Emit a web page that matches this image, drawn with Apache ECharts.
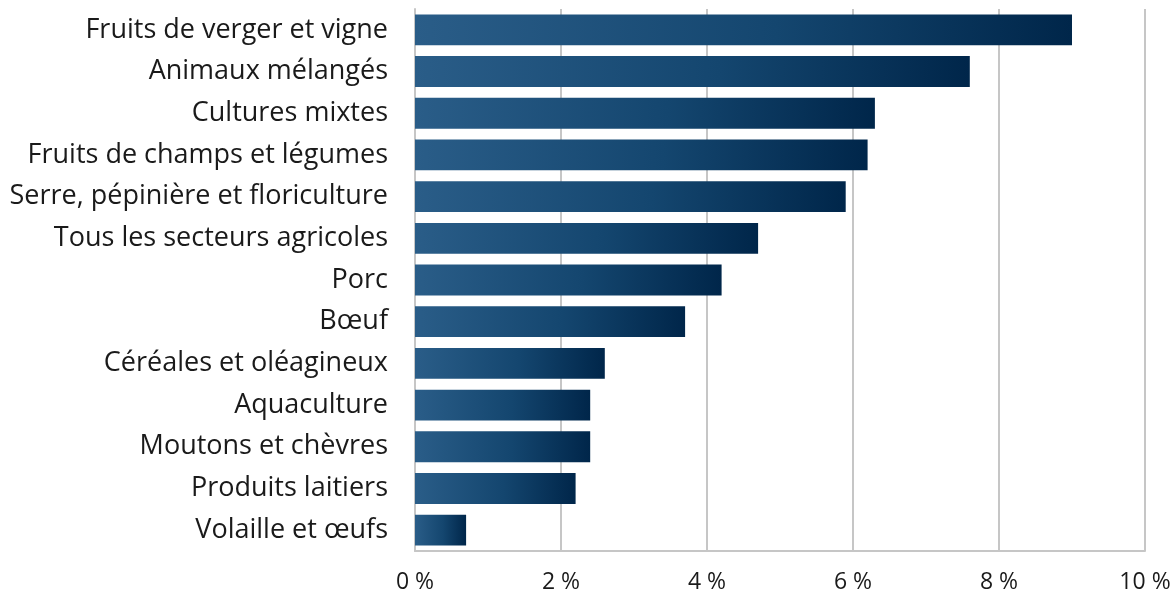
<!DOCTYPE html>
<html>
<head>
<meta charset="utf-8">
<script src="https://cdn.jsdelivr.net/npm/echarts@6/dist/echarts.min.js"></script>
<style>
  html, body { margin: 0; padding: 0; background: #ffffff; }
  #chart { width: 1175px; height: 594px; }
</style>
</head>
<body>
<div id="chart"></div>
<script>
// Secteurs agricoles, du plus élevé au plus bas
const categories = [
  'Fruits de verger et vigne',
  'Animaux mélangés',
  'Cultures mixtes',
  'Fruits de champs et légumes',
  'Serre, pépinière et floriculture',
  'Tous les secteurs agricoles',
  'Porc',
  'Bœuf',
  'Céréales et oléagineux',
  'Aquaculture',
  'Moutons et chèvres',
  'Produits laitiers',
  'Volaille et œufs'
];
const values = [9.0, 7.6, 6.3, 6.2, 5.9, 4.7, 4.2, 3.7, 2.6, 2.4, 2.4, 2.2, 0.7];
const xTicks = [0, 2, 4, 6, 8, 10];

const chart = echarts.init(document.getElementById('chart'));
const fontFamily = '"Open Sans", "Noto Sans", sans-serif';

chart.setOption({
  animation: false,
  grid: { left: 415, right: 30, top: 9, bottom: 42, containLabel: false },
  xAxis: {
    type: 'value',
    min: xTicks[0],
    max: xTicks[xTicks.length - 1],
    interval: 2,
    axisLine: { show: true, lineStyle: { color: '#c6c6c6', width: 2 } },
    axisTick: { show: false },
    splitLine: { show: true, lineStyle: { color: '#c6c6c6', width: 2 } },
    axisLabel: {
      color: '#1a1a1a',
      fontFamily: fontFamily,
      fontSize: 23,
      margin: 20,
      formatter: v => v + '\u00a0%'
    }
  },
  yAxis: {
    type: 'category',
    inverse: true,
    data: categories,
    axisLine: { show: true, lineStyle: { color: '#c6c6c6', width: 2 } },
    axisTick: { show: false },
    axisLabel: {
      color: '#1a1a1a',
      fontFamily: fontFamily,
      fontSize: 27,
      margin: 27
    }
  },
  series: [{
    type: 'bar',
    data: values,
    barCategoryGap: '26%',
    itemStyle: {
      color: new echarts.graphic.LinearGradient(0, 0, 1, 0, [
        { offset: 0, color: '#2a5d88' },
        { offset: 0.55, color: '#14466f' },
        { offset: 1, color: '#00264a' }
      ])
    }
  }]
});
</script>
</body>
</html>
